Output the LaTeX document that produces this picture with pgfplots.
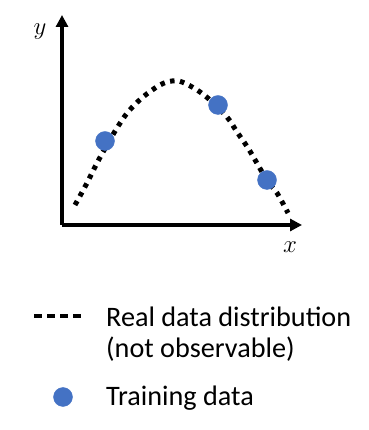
\documentclass[border=0pt]{standalone}
\usepackage{pgfplots}
\pgfplotsset{compat=1.18}
\usetikzlibrary{arrows.meta}
\usepackage{fontspec}
\setmainfont{Carlito}
\definecolor{dotblue}{HTML}{4472C4}
\begin{document}
\begin{tikzpicture}
% overlay axis: whole canvas in pixel units (y up)
\begin{axis}[at={(0pt,0pt)},anchor=origin,width=368pt,height=430pt,scale only axis,
  xmin=0,xmax=368,ymin=0,ymax=430,hide axis,clip=false]
  \path[use as bounding box] (axis cs:0,0) rectangle (axis cs:368,430);
  % legend samples
  \addplot[black,line width=4.5pt,dash pattern=on 8pt off 5pt] coordinates {(34,114) (82,114)};
  \addplot[only marks,mark=*,mark size=9.5pt,draw=dotblue,fill=dotblue] coordinates {(63,33)};
  \node[anchor=base west,inner sep=0pt,font=\fontsize{28.2}{32}\selectfont] at (axis cs:106,103) {Real data distribution};
  \node[anchor=base west,inner sep=0pt,font=\fontsize{28.2}{32}\selectfont] at (axis cs:106,72) {(not observable)};
  \node[anchor=base west,inner sep=0pt,font=\fontsize{28.2}{32}\selectfont] at (axis cs:106,24) {Training data};
  \node[font=\fontsize{24}{28}\selectfont] at (axis cs:40,398) {$y$};
  \node[font=\fontsize{24}{28}\selectfont] at (axis cs:290,183) {$x$};
\end{axis}
% main axis
\begin{axis}[at={(62pt,205pt)},anchor=origin,width=240pt,height=210pt,scale only axis,
  xmin=62,xmax=302,ymin=205,ymax=415,axis lines=left,ticks=none,clip=false,
  axis line style={line width=3.2pt,-{Triangle[length=12pt,width=12pt]}}]
  \addplot[black,line width=5pt,dash pattern=on 4.5pt off 5.5pt,smooth,tension=0.6] coordinates {
    (75,225) (87,247) (97,267) (107,285) (117,302) (128,318) (143,333) (160,345) (172,349)
    (182,348) (197,340) (210,330) (227,313) (237,298) (248,282) (258,265) (268,248) (277,237) (288,217)};
  \addplot[only marks,mark=*,mark size=9.5pt,draw=dotblue,fill=dotblue] coordinates {
    (105,289) (218,325) (267,250)};
\end{axis}
\end{tikzpicture}
\end{document}
